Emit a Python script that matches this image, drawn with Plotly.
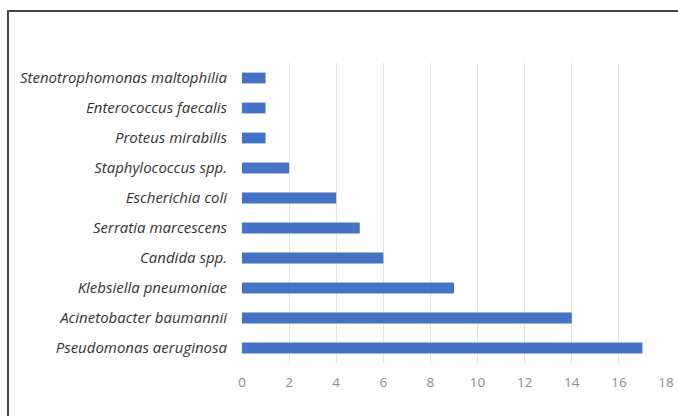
import plotly.graph_objects as go

organisms = [
    "Pseudomonas aeruginosa",
    "Acinetobacter baumannii",
    "Klebsiella pneumoniae",
    "Candida spp.",
    "Serratia marcescens",
    "Escherichia coli",
    "Staphylococcus spp.",
    "Proteus mirabilis",
    "Enterococcus faecalis",
    "Stenotrophomonas maltophilia",
]
counts = [17, 14, 9, 6, 5, 4, 2, 1, 1, 1]
x_ticks = [0, 2, 4, 6, 8, 10, 12, 14, 16, 18]

W, H = 678, 416
ml, mr, mt, mb = 242, 12, 63, 53
pw, ph = W - ml - mr, H - mt - mb

def px(x):
    return (x - ml) / pw

def py(y):
    return (H - mb - y) / ph

fig = go.Figure(go.Bar(
    x=counts, y=organisms, orientation="h",
    marker=dict(color="#4472C4", line=dict(width=0)),
))

fig.update_layout(
    width=W, height=H,
    margin=dict(l=ml, r=mr, t=mt, b=mb, autoexpand=False),
    paper_bgcolor="white", plot_bgcolor="white",
    bargap=0.64, showlegend=False,
    font=dict(family="Open Sans", color="#333"),
    xaxis=dict(
        range=[0, 18], tickvals=x_ticks, showgrid=True, gridcolor="#e3e3e3",
        gridwidth=1, zeroline=False, showline=False, automargin=False,
        tickfont=dict(size=13.5, color="#8a8a8a"), ticks="",
        ticklabelstandoff=9, ticklabeloverflow="allow",
    ),
    yaxis=dict(
        showgrid=False, zeroline=False, showline=False, ticks="",
        automargin=False,
        tickfont=dict(size=15, color="#333", style="italic"),
        ticklabelstandoff=14,
    ),
    shapes=[dict(
        type="path", xref="paper", yref="paper",
        path=f"M {px(720)},{py(11)} L {px(8)},{py(11)} L {px(8)},{py(450)}",
        line=dict(color="#444", width=2),
    )],
)

fig.write_html("out.html")
